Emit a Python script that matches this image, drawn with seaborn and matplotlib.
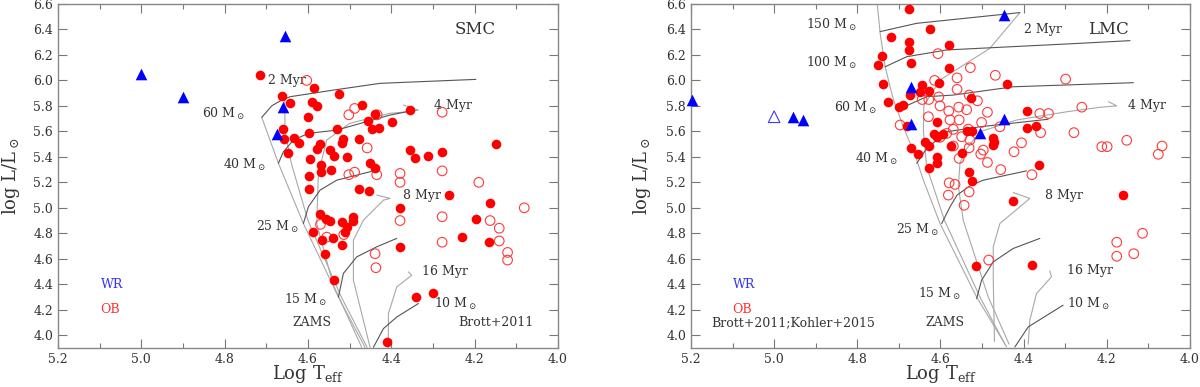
import numpy as np
import matplotlib
matplotlib.use("Agg")
import matplotlib.pyplot as plt
import seaborn as sns
from matplotlib.ticker import MultipleLocator, FormatStrFormatter

# ==============================
# DATA : SMC
# ==============================
smc_wr_T = [5.00, 4.90, 4.655, 4.66, 4.675]
smc_wr_L = [6.05, 5.87, 6.35, 5.79, 5.58]

smc_ob_T = [4.715, 4.586, 4.525, 4.662, 4.642, 4.59, 4.579, 4.47, 4.354, 4.60,
            4.44, 4.455, 4.447, 4.43, 4.398, 4.661, 4.658, 4.634, 4.622, 4.597,
            4.531, 4.648, 4.515, 4.519, 4.477, 4.57, 4.579, 4.546, 4.538, 4.506,
            4.595, 4.568, 4.568, 4.544, 4.451, 4.439, 4.598, 4.598, 4.477, 4.454,
            4.354, 4.342, 4.312, 4.278, 4.149, 4.261, 4.379, 4.162, 4.57, 4.557,
            4.548, 4.518, 4.491, 4.493, 4.507, 4.51, 4.589, 4.566, 4.541, 4.518,
            4.56, 4.538, 4.379, 4.341, 4.301, 4.41, 4.197, 4.23, 4.165]
smc_ob_L = [6.04, 5.94, 5.89, 5.88, 5.82, 5.83, 5.80, 5.81, 5.77, 5.71,
            5.74, 5.68, 5.62, 5.63, 5.67, 5.62, 5.54, 5.55, 5.51, 5.59,
            5.62, 5.43, 5.54, 5.51, 5.54, 5.50, 5.46, 5.45, 5.41, 5.40,
            5.38, 5.34, 5.28, 5.30, 5.35, 5.31, 5.25, 5.15, 5.15, 5.13,
            5.45, 5.39, 5.41, 5.44, 5.50, 5.10, 5.00, 5.04, 4.95, 4.91,
            4.90, 4.89, 4.93, 4.90, 4.85, 4.81, 4.81, 4.75, 4.76, 4.71,
            4.64, 4.43, 4.69, 4.30, 4.33, 3.95, 4.91, 4.77, 4.73]

smc_obo_T = [4.603, 4.502, 4.488, 4.434, 4.278, 4.458, 4.502, 4.488, 4.435, 4.379,
             4.379, 4.278, 4.19, 4.57, 4.514, 4.278, 4.379, 4.278, 4.163, 4.439,
             4.437, 4.081, 4.141, 4.141, 4.121, 4.121, 4.555]
smc_obo_L = [6.00, 5.73, 5.78, 5.73, 5.75, 5.47, 5.26, 5.28, 5.26, 5.27,
             5.20, 5.29, 5.20, 4.87, 4.79, 4.93, 4.90, 4.73, 4.90, 4.64,
             4.53, 5.00, 4.84, 4.74, 4.65, 4.59, 4.77]

# evolutionary tracks (Brott+2011)
smc_zams_T = [4.711, 4.671, 4.611, 4.527, 4.463]
smc_zams_L = [5.71, 5.35, 4.877, 4.30, 3.905]
smc_m60_T = [4.711, 4.687, 4.663, 4.643, 4.539, 4.427, 4.197]
smc_m60_L = [5.71, 5.80, 5.846, 5.872, 5.924, 5.977, 6.008]
smc_m40_T = [4.671, 4.659, 4.635, 4.599, 4.531, 4.403, 4.363]
smc_m40_L = [5.349, 5.44, 5.532, 5.584, 5.61, 5.728, 5.754]
smc_m25_T = [4.611, 4.599, 4.571, 4.531, 4.451, 4.427]
smc_m25_L = [4.877, 5.008, 5.139, 5.217, 5.283, 5.32]
smc_m15_T = [4.527, 4.515, 4.483, 4.435, 4.387]
smc_m15_L = [4.30, 4.485, 4.615, 4.694, 4.76]
smc_m10_T = [4.443, 4.419, 4.387, 4.335]
smc_m10_L = [3.905, 4.052, 4.143, 4.249]

# isochrones
smc_i2_T = [4.656, 4.655, 4.64, 4.60, 4.52, 4.458]
smc_i2_L = [5.86, 5.60, 5.35, 4.90, 4.30, 3.905]
smc_i4_T = [4.371, 4.335, 4.363, 4.404, 4.50, 4.555, 4.575, 4.579, 4.54, 4.471]
smc_i4_L = [5.807, 5.767, 5.754, 5.741, 5.663, 5.532, 5.27, 4.877, 4.40, 3.905]
smc_i8_T = [4.435, 4.403, 4.419, 4.467, 4.491, 4.491, 4.451]
smc_i8_L = [5.10, 5.074, 5.06, 4.903, 4.746, 4.432, 3.905]
smc_i16_T = [4.359, 4.351, 4.387, 4.407, 4.407]
smc_i16_L = [4.497, 4.471, 4.379, 4.17, 3.905]

# ==============================
# DATA : LMC
# ==============================
lmc_wr_T = [5.198, 4.955, 4.93, 4.447, 4.672, 4.672, 4.505, 4.447]
lmc_wr_L = [5.85, 5.71, 5.69, 6.51, 5.945, 5.66, 5.59, 5.70]
lmc_wro_T = [5.00]
lmc_wro_L = [5.715]

lmc_ob_T = [4.675, 4.625, 4.72, 4.675, 4.675, 4.58, 4.741, 4.749, 4.672, 4.58,
            4.739, 4.644, 4.603, 4.627, 4.649, 4.673, 4.439, 4.726, 4.70, 4.691,
            4.526, 4.68, 4.609, 4.391, 4.391, 4.37, 4.536, 4.525, 4.616, 4.595,
            4.608, 4.638, 4.628, 4.672, 4.654, 4.575, 4.547, 4.609, 4.609, 4.627,
            4.473, 4.473, 4.47, 4.362, 4.532, 4.525, 4.16, 4.426, 4.515, 4.38]
lmc_ob_L = [6.56, 6.40, 6.34, 6.30, 6.24, 6.28, 6.19, 6.12, 6.14, 6.10,
            5.97, 5.96, 5.98, 5.92, 5.91, 5.885, 5.97, 5.83, 5.79, 5.81,
            5.86, 5.64, 5.67, 5.76, 5.63, 5.64, 5.605, 5.605, 5.58, 5.58,
            5.553, 5.52, 5.485, 5.47, 5.42, 5.485, 5.43, 5.40, 5.35, 5.31,
            5.545, 5.49, 5.52, 5.34, 5.28, 5.21, 5.10, 5.05, 4.54, 4.55]

lmc_obo_T = [4.606, 4.528, 4.468, 4.299, 4.56, 4.614, 4.56, 4.604, 4.531, 4.511,
             4.628, 4.601, 4.58, 4.556, 4.537, 4.487, 4.577, 4.555, 4.629, 4.501,
             4.361, 4.34, 4.26, 4.457, 4.569, 4.533, 4.585, 4.601, 4.549, 4.529,
             4.405, 4.359, 4.279, 4.531, 4.423, 4.503, 4.497, 4.487, 4.455, 4.38,
             4.212, 4.199, 4.152, 4.067, 4.076, 4.555, 4.579, 4.565, 4.531, 4.581,
             4.644, 4.697, 4.569, 4.543, 4.484, 4.114, 4.176, 4.176, 4.135]
lmc_obo_L = [6.21, 6.10, 6.04, 6.01, 6.02, 6.00, 5.93, 5.87, 5.885, 5.84,
             5.85, 5.80, 5.76, 5.79, 5.77, 5.75, 5.69, 5.69, 5.715, 5.67,
             5.74, 5.74, 5.79, 5.636, 5.616, 5.618, 5.584, 5.553, 5.558, 5.532,
             5.51, 5.59, 5.59, 5.471, 5.44, 5.422, 5.453, 5.356, 5.30, 5.26,
             5.48, 5.48, 5.53, 5.485, 5.42, 5.388, 5.196, 5.184, 5.125, 5.10,
             5.85, 5.65, 5.485, 5.02, 4.59, 4.80, 4.73, 4.62, 4.64]

# evolutionary tracks (Brott+2011; Kohler+2015)
lmc_zams_T = [4.752, 4.745, 4.733, 4.713, 4.689, 4.657, 4.641, 4.601, 4.513, 4.441]
lmc_zams_L = [6.60, 6.37, 6.107, 5.846, 5.636, 5.375, 5.217, 4.877, 4.30, 3.91]
lmc_m150_T = [4.745, 4.657, 4.409]
lmc_m150_L = [6.383, 6.448, 6.532]
lmc_m100_T = [4.733, 4.681, 4.585, 4.265, 4.144]
lmc_m100_L = [6.107, 6.186, 6.239, 6.291, 6.312]
lmc_m60_T = [4.705, 4.633, 4.569, 4.425, 4.136]
lmc_m60_L = [5.767, 5.872, 5.885, 5.95, 5.982]
lmc_m40_T = [4.657, 4.633, 4.585, 4.505, 4.341]
lmc_m40_L = [5.349, 5.466, 5.597, 5.636, 5.695]
lmc_m25_T = [4.597, 4.577, 4.56, 4.53, 4.497, 4.393]
lmc_m25_L = [4.877, 5.008, 5.10, 5.17, 5.217, 5.29]
lmc_m15_T = [4.513, 4.501, 4.473, 4.425, 4.361]
lmc_m15_L = [4.288, 4.432, 4.576, 4.681, 4.76]
lmc_m10_T = [4.421, 4.389, 4.305]
lmc_m10_L = [3.908, 4.065, 4.236]

# isochrones
lmc_i2_T = [4.409, 4.481, 4.601, 4.64, 4.641, 4.633, 4.59, 4.505, 4.445]
lmc_i2_L = [6.532, 6.252, 6.003, 5.80, 5.60, 5.32, 4.90, 4.30, 3.93]
lmc_i4_T = [4.196, 4.176, 4.216, 4.296, 4.417, 4.505, 4.54, 4.553, 4.557, 4.545, 4.485, 4.435]
lmc_i4_L = [5.833, 5.80, 5.789, 5.754, 5.689, 5.597, 5.45, 5.35, 5.17, 4.90, 4.30, 3.93]
lmc_i8_T = [4.425, 4.385, 4.409, 4.457, 4.473, 4.473, 4.47]
lmc_i8_L = [5.12, 5.074, 5.008, 4.877, 4.694, 4.43, 3.95]
lmc_i16_T = [4.337, 4.333, 4.369, 4.385, 4.389]
lmc_i16_L = [4.505, 4.458, 4.327, 4.118, 3.93]

# ==============================
# STYLE
# ==============================
sns.set_style("ticks")
plt.rcParams['font.family'] = ['DejaVu Serif']
plt.rcParams['mathtext.fontset'] = 'dejavuserif'

TXT = '#333333'
TRACK = '#555555'
ISO = '#a8a8a8'
MSUN = r'M$_\odot$'

fig = plt.figure(figsize=(12, 3.87), dpi=100)
ax1 = fig.add_axes([0.0483, 0.1008, 0.4167, 0.889])
ax2 = fig.add_axes([0.5758, 0.1008, 0.4158, 0.889])


def draw_line(ax, T, L, col):
    sns.lineplot(x=T, y=L, ax=ax, sort=False, estimator=None,
                 color=col, linewidth=0.8)


def draw_stars(ax, T, L, marker, col, s, filled=True):
    sns.scatterplot(x=T, y=L, ax=ax, marker=marker, s=s, color=col,
                    linewidth=0, zorder=5)
    pc = ax.collections[-1]
    if not filled:
        pc.set_facecolor('none')
        pc.set_edgecolor(col)
        pc.set_linewidth(0.8)
    pc.set_clip_on(False)


def style_axes(ax, ylab_x):
    ax.set_xlim(5.2, 4.0)
    ax.set_ylim(3.9, 6.6)
    ax.xaxis.set_major_locator(MultipleLocator(0.2))
    ax.xaxis.set_minor_locator(MultipleLocator(0.1))
    ax.yaxis.set_major_locator(MultipleLocator(0.2))
    ax.xaxis.set_major_formatter(FormatStrFormatter('%.1f'))
    ax.yaxis.set_major_formatter(FormatStrFormatter('%.1f'))
    ax.tick_params(which='both', direction='in', top=True, right=True,
                   colors='#777777', labelcolor=TXT, labelsize=9)
    ax.tick_params(which='major', length=6.5, width=0.8)
    ax.tick_params(which='minor', length=3.5, width=0.8)
    for sp in ax.spines.values():
        sp.set_color('#888888')
        sp.set_linewidth(1.0)
    ax.set_xlabel(r'Log T$_{\rm eff}$', fontsize=13, color=TXT)
    ax.set_ylabel(r'log L/L$_\odot$', fontsize=13, color=TXT)
    ax.xaxis.set_label_coords(0.5, -0.045)
    ax.yaxis.set_label_coords(ylab_x, 0.5)


def label(ax, x, y, s, ha='left', size=9, col=TXT):
    ax.text(x, y, s, ha=ha, va='center', fontsize=size, color=col)


# ==============================
# LEFT PANEL : SMC
# ==============================
for T, L in [(smc_zams_T, smc_zams_L), (smc_i2_T, smc_i2_L), (smc_i4_T, smc_i4_L),
             (smc_i8_T, smc_i8_L), (smc_i16_T, smc_i16_L)]:
    draw_line(ax1, T, L, ISO)
for T, L in [(smc_m60_T, smc_m60_L), (smc_m40_T, smc_m40_L), (smc_m25_T, smc_m25_L),
             (smc_m15_T, smc_m15_L), (smc_m10_T, smc_m10_L)]:
    draw_line(ax1, T, L, TRACK)

draw_stars(ax1, smc_obo_T, smc_obo_L, 'o', '#ff3b3b', 48, filled=False)
draw_stars(ax1, smc_ob_T, smc_ob_L, 'o', '#ff0000', 48)
draw_stars(ax1, smc_wr_T, smc_wr_L, '^', '#0000ff', 70)

label(ax1, 4.695, 6.00, '2 Myr')
label(ax1, 4.298, 5.80, '4 Myr')
label(ax1, 4.373, 5.10, '8 Myr')
label(ax1, 4.326, 4.50, '16 Myr')
label(ax1, 4.751, 5.733, '60 ' + MSUN, ha='right')
label(ax1, 4.702, 5.333, '40 ' + MSUN, ha='right')
label(ax1, 4.623, 4.85, '25 ' + MSUN, ha='right')
label(ax1, 4.554, 4.28, '15 ' + MSUN, ha='right')
label(ax1, 4.297, 4.249, '10 ' + MSUN)
label(ax1, 4.591, 4.097, 'ZAMS', ha='center')
label(ax1, 4.239, 4.10, 'Brott+2011')
label(ax1, 4.247, 6.40, 'SMC', size=12)
label(ax1, 5.098, 4.40, 'WR', col='#3030ff')
label(ax1, 5.098, 4.20, 'OB', col='#ff3030')
style_axes(ax1, -0.072)

# ==============================
# RIGHT PANEL : LMC
# ==============================
for T, L in [(lmc_zams_T, lmc_zams_L), (lmc_i2_T, lmc_i2_L), (lmc_i4_T, lmc_i4_L),
             (lmc_i8_T, lmc_i8_L), (lmc_i16_T, lmc_i16_L)]:
    draw_line(ax2, T, L, ISO)
for T, L in [(lmc_m150_T, lmc_m150_L), (lmc_m100_T, lmc_m100_L), (lmc_m60_T, lmc_m60_L),
             (lmc_m40_T, lmc_m40_L), (lmc_m25_T, lmc_m25_L), (lmc_m15_T, lmc_m15_L),
             (lmc_m10_T, lmc_m10_L)]:
    draw_line(ax2, T, L, TRACK)

draw_stars(ax2, lmc_obo_T, lmc_obo_L, 'o', '#ff3b3b', 48, filled=False)
draw_stars(ax2, lmc_ob_T, lmc_ob_L, 'o', '#ff0000', 48)
draw_stars(ax2, lmc_wro_T, lmc_wro_L, '^', '#3a3aff', 70, filled=False)
draw_stars(ax2, lmc_wr_T, lmc_wr_L, '^', '#0000ff', 70)

label(ax2, 4.399, 6.40, '2 Myr')
label(ax2, 4.149, 5.80, '4 Myr')
label(ax2, 4.349, 5.10, '8 Myr')
label(ax2, 4.295, 4.505, '16 Myr')
label(ax2, 4.801, 6.435, '150 ' + MSUN, ha='right')
label(ax2, 4.801, 6.134, '100 ' + MSUN, ha='right')
label(ax2, 4.753, 5.78, '60 ' + MSUN, ha='right')
label(ax2, 4.703, 5.38, '40 ' + MSUN, ha='right')
label(ax2, 4.603, 4.825, '25 ' + MSUN, ha='right')
label(ax2, 4.551, 4.327, '15 ' + MSUN, ha='right')
label(ax2, 4.295, 4.249, '10 ' + MSUN)
label(ax2, 4.59, 4.097, 'ZAMS', ha='center')
label(ax2, 5.15, 4.097, 'Brott+2011;Kohler+2015')
label(ax2, 4.244, 6.40, 'LMC', size=12)
label(ax2, 5.098, 4.40, 'WR', col='#3030ff')
label(ax2, 5.10, 4.20, 'OB', col='#ff3030')
style_axes(ax2, -0.076)

fig.savefig('out.png', dpi=100)
